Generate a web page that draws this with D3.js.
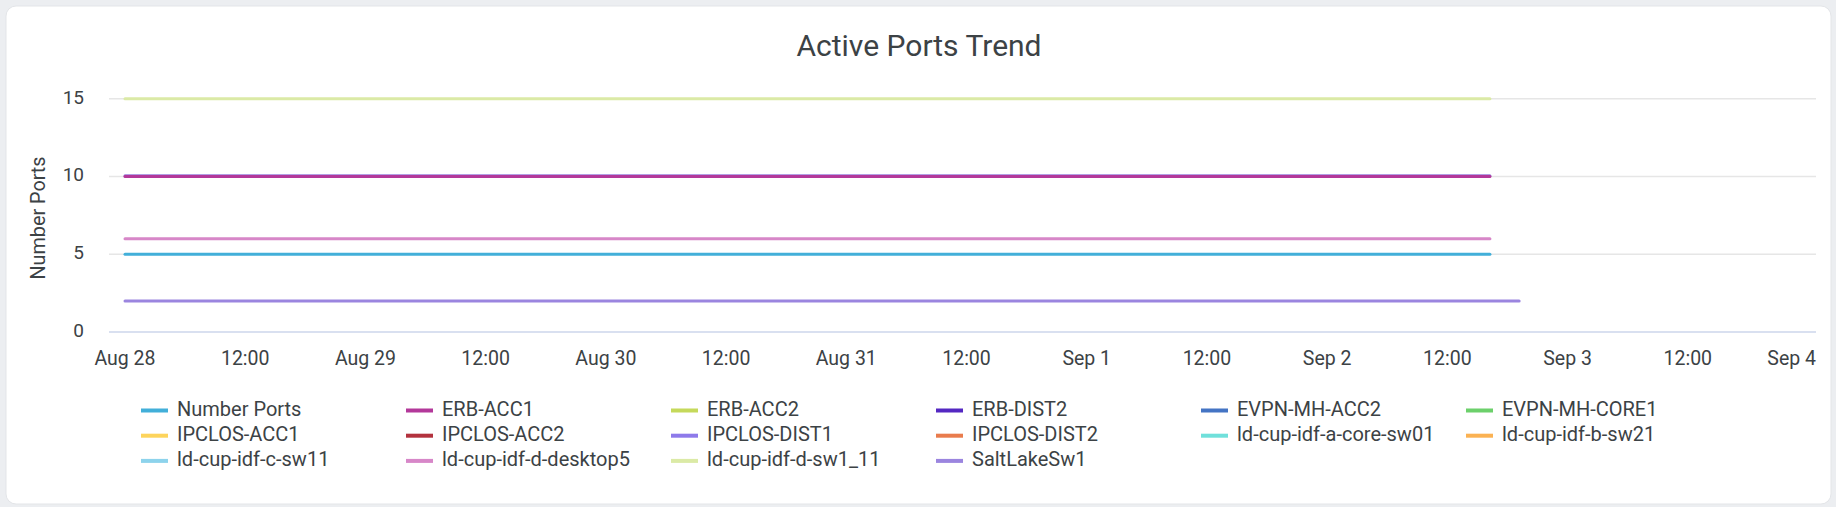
<!DOCTYPE html>
<html>
<head>
<meta charset="utf-8">
<script src="https://cdn.jsdelivr.net/npm/d3@7"></script>
<style>
  html, body { margin: 0; padding: 0; background: #eceef1; }
  svg { display: block; font-family: Roboto, "Noto Sans", sans-serif; }
</style>
</head>
<body>
<svg id="chart" width="1836" height="507"></svg>
<script>
// ---- data ----
const chartTitle = "Active Ports Trend";
const yAxisTitle = "Number Ports";
const seriesNames = [
  "Number Ports", "ERB-ACC1", "ERB-ACC2", "ERB-DIST2", "EVPN-MH-ACC2", "EVPN-MH-CORE1",
  "IPCLOS-ACC1", "IPCLOS-ACC2", "IPCLOS-DIST1", "IPCLOS-DIST2", "ld-cup-idf-a-core-sw01", "ld-cup-idf-b-sw21",
  "ld-cup-idf-c-sw11", "ld-cup-idf-d-desktop5", "ld-cup-idf-d-sw1_11", "SaltLakeSw1"
];
const seriesColors = [
  "#42afd9", "#b3389a", "#c5d95b", "#5428c2", "#4474c4", "#6cd06b",
  "#fdd45c", "#b3323e", "#8e7aea", "#e97c4d", "#70e0db", "#fbb253",
  "#8dd3ec", "#d787c8", "#dbeaa6", "#9b85df"
];
const timesMain = ["2024-08-28T00:00", "2024-08-29T00:00", "2024-08-30T00:00", "2024-08-31T00:00",
                   "2024-09-01T00:00", "2024-09-02T00:00", "2024-09-02T16:15"];
const timesSalt = ["2024-08-28T00:00", "2024-08-29T00:00", "2024-08-30T00:00", "2024-08-31T00:00",
                   "2024-09-01T00:00", "2024-09-02T00:00", "2024-09-02T19:10"];
const valuesNumberPorts = [5, 5, 5, 5, 5, 5, 5];
const valuesERBDIST2 = [10, 10, 10, 10, 10, 10, 10];
const valuesERBACC1 = [10, 10, 10, 10, 10, 10, 10];
const valuesDesktop5 = [6, 6, 6, 6, 6, 6, 6];
const valuesSw1_11 = [15, 15, 15, 15, 15, 15, 15];
const valuesSaltLake = [2, 2, 2, 2, 2, 2, 2];
const yTicks = [0, 5, 10, 15];
const xTickTimes = ["2024-08-28T00:00", "2024-08-28T12:00", "2024-08-29T00:00", "2024-08-29T12:00",
  "2024-08-30T00:00", "2024-08-30T12:00", "2024-08-31T00:00", "2024-08-31T12:00",
  "2024-09-01T00:00", "2024-09-01T12:00", "2024-09-02T00:00", "2024-09-02T12:00",
  "2024-09-03T00:00", "2024-09-03T12:00", "2024-09-04T00:00"];
const xTickLabels = ["Aug 28", "12:00", "Aug 29", "12:00", "Aug 30", "12:00", "Aug 31", "12:00",
  "Sep 1", "12:00", "Sep 2", "12:00", "Sep 3", "12:00", "Sep 4"];

// series with data (others have no points in range); drawn in this order
const plotted = [
  { name: "Number Ports", times: timesMain, values: valuesNumberPorts },
  { name: "ERB-DIST2", times: timesMain, values: valuesERBDIST2 },
  { name: "ERB-ACC1", times: timesMain, values: valuesERBACC1 },
  { name: "ld-cup-idf-d-desktop5", times: timesMain, values: valuesDesktop5 },
  { name: "ld-cup-idf-d-sw1_11", times: timesMain, values: valuesSw1_11 },
  { name: "SaltLakeSw1", times: timesSalt, values: valuesSaltLake }
];

// ---- layout ----
const parse = d3.utcParse("%Y-%m-%dT%H:%M");
const plotLeft = 109, plotRight = 1816;
const textColor = "#3c4245";
const svg = d3.select("#chart");

svg.append("rect").attr("x", 6).attr("y", 6).attr("width", 1825).attr("height", 498)
  .attr("rx", 10).attr("fill", "#ffffff").attr("stroke", "#e3e5e8").attr("stroke-width", 1);

const x = d3.scaleUtc()
  .domain([parse("2024-08-28T00:00"), parse("2024-09-04T00:00")])
  .range([125, 1808]);
const y = d3.scaleLinear().domain([0, 15]).range([332, 98.7]);

// title
svg.append("text").attr("x", 919).attr("y", 48.5).attr("text-anchor", "middle")
  .attr("dominant-baseline", "middle").attr("font-size", 30).attr("fill", textColor)
  .text(chartTitle);

// gridlines
svg.append("g").selectAll("line").data(yTicks.filter(t => t > 0)).join("line")
  .attr("x1", plotLeft).attr("x2", plotRight)
  .attr("y1", d => y(d)).attr("y2", d => y(d))
  .attr("stroke", "#e6e6e6").attr("stroke-width", 1.5);
// x axis line
svg.append("line").attr("x1", plotLeft).attr("x2", plotRight)
  .attr("y1", y(0)).attr("y2", y(0)).attr("stroke", "#ccd6eb").attr("stroke-width", 1.5);

// y tick labels
svg.append("g").selectAll("text").data(yTicks).join("text")
  .attr("x", 84).attr("y", d => y(d)).attr("text-anchor", "end")
  .attr("dominant-baseline", "middle").attr("font-size", 19).attr("fill", textColor)
  .text(d => d);

// y axis title
svg.append("text").attr("transform", "translate(40,218) rotate(-90)")
  .attr("text-anchor", "middle").attr("dominant-baseline", "middle")
  .attr("font-size", 19.8).attr("fill", textColor).text(yAxisTitle);

// x tick labels
svg.append("g").selectAll("text").data(xTickTimes).join("text")
  .attr("x", (d, i) => i === xTickTimes.length - 1 ? plotRight : x(parse(d)))
  .attr("y", 359.5)
  .attr("text-anchor", (d, i) => i === xTickTimes.length - 1 ? "end" : "middle")
  .attr("dominant-baseline", "middle").attr("font-size", 19.5).attr("fill", textColor)
  .text((d, i) => xTickLabels[i]);

// lines
const line = d3.line().x(d => x(d[0])).y(d => y(d[1]));
svg.append("g").selectAll("path").data(plotted).join("path")
  .attr("d", s => line(s.times.map((t, i) => [parse(t), s.values[i]])))
  .attr("transform", s => s.name === "ERB-DIST2" ? "translate(0,-0.8)" : null)
  .attr("fill", "none")
  .attr("stroke", s => seriesColors[seriesNames.indexOf(s.name)])
  .attr("stroke-opacity", s => s.name === "ERB-DIST2" ? 0.6 : 1)
  .attr("stroke-width", 3).attr("stroke-linecap", "round");

// legend
const legend = svg.append("g").selectAll("g").data(seriesNames).join("g")
  .attr("transform", (d, i) => `translate(${141 + 265 * (i % 6)},${410.5 + 25.2 * Math.floor(i / 6)})`);
legend.append("rect").attr("x", 0).attr("y", -2).attr("width", 27).attr("height", 4)
  .attr("fill", (d, i) => seriesColors[i]);
legend.append("text").attr("x", 36).attr("y", 0).attr("dominant-baseline", "middle")
  .attr("font-size", 20).attr("fill", textColor).text(d => d);
</script>
</body>
</html>
